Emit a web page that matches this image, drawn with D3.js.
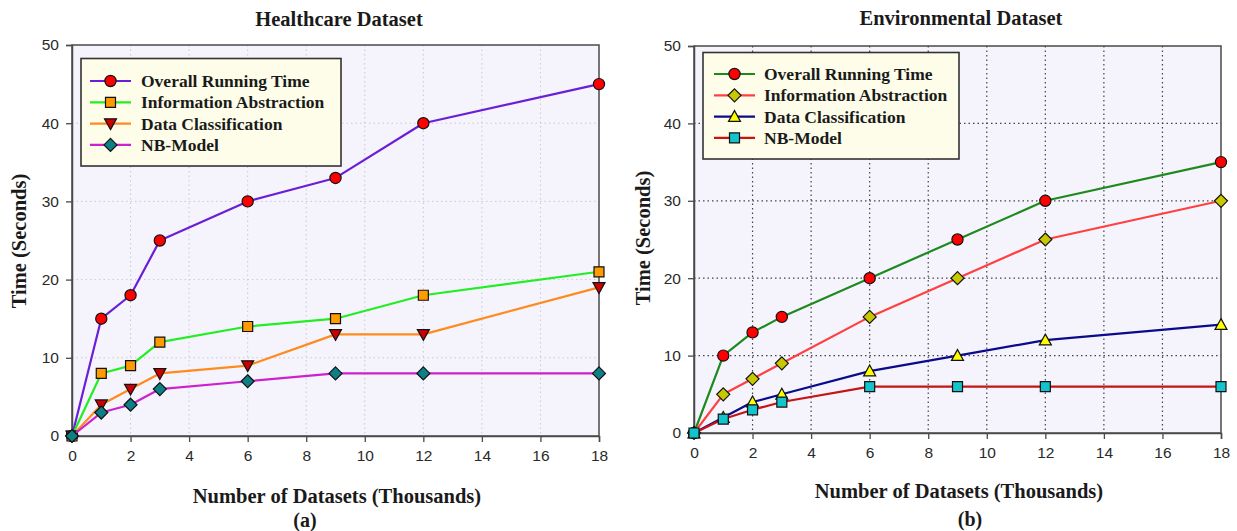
<!DOCTYPE html>
<html>
<head>
<meta charset="utf-8">
<script src="https://cdn.jsdelivr.net/npm/d3@7"></script>
<style>
  html, body { margin: 0; padding: 0; background: #ffffff; }
  svg { display: block; }
</style>
</head>
<body>
<svg id="chart" width="1237" height="531"></svg>
<script>
// ---------------- DATA ----------------
const xValues = [0, 1, 2, 3, 6, 9, 12, 18];
const xTicks = [0, 2, 4, 6, 8, 10, 12, 14, 16, 18];
const yTicks = [0, 10, 20, 30, 40, 50];
const seriesNames = ["Overall Running Time", "Information Abstraction", "Data Classification", "NB-Model"];

// (a) Healthcare Dataset
const healthOverall = [0, 15, 18, 25, 30, 33, 40, 45];
const healthInfo    = [0, 8, 9, 12, 14, 15, 18, 21];
const healthClass   = [0, 4, 6, 8, 9, 13, 13, 19];
const healthNB      = [0, 3, 4, 6, 7, 8, 8, 8];

// (b) Environmental Dataset
const envOverall = [0, 10, 13, 15, 20, 25, 30, 35];
const envInfo    = [0, 5, 7, 9, 15, 20, 25, 30];
const envClass   = [0, 2, 4, 5, 8, 10, 12, 14];
const envNB      = [0, 1.8, 3, 4, 6, 6, 6, 6];

const chartTitles = ["Healthcare Dataset", "Environmental Dataset"];
const panelLabels = ["(a)", "(b)"];
const xTitle = "Number of Datasets (Thousands)";
const yTitle = "Time (Seconds)";

// ---------------- DRAWING ----------------
const svg = d3.select("#chart");
const serif = "'Liberation Serif', 'Times New Roman', serif";
const sans = "'Liberation Sans', Arial, sans-serif";

function markerPath(shape, cx, cy) {
  switch (shape) {
    case "circle": {
      const r = 5.6;
      return `M${cx - r},${cy}a${r},${r} 0 1,0 ${2 * r},0a${r},${r} 0 1,0 ${-2 * r},0Z`;
    }
    case "square": {
      const h = 5;
      return `M${cx - h},${cy - h}h${2 * h}v${2 * h}h${-2 * h}Z`;
    }
    case "diamond": {
      const h = 6.5;
      return `M${cx},${cy - h}L${cx + h},${cy}L${cx},${cy + h}L${cx - h},${cy}Z`;
    }
    case "triUp": {
      const s = 6;
      return `M${cx},${cy - s}L${cx + s},${cy + s * 0.8}L${cx - s},${cy + s * 0.8}Z`;
    }
    case "triDown": {
      const s = 6;
      return `M${cx},${cy + s}L${cx + s},${cy - s * 0.8}L${cx - s},${cy - s * 0.8}Z`;
    }
  }
}

function drawPanel(cfg) {
  const g = svg.append("g");
  const x = d3.scaleLinear().domain([0, 18]).range([cfg.left, cfg.right]);
  const y = d3.scaleLinear().domain([0, 50]).range([cfg.bottom, cfg.top]);

  // plot background
  g.append("rect")
    .attr("x", cfg.left).attr("y", cfg.top)
    .attr("width", cfg.right - cfg.left).attr("height", cfg.bottom - cfg.top)
    .attr("fill", "#f5f4fd");

  // grid
  const grid = g.append("g");
  grid.selectAll("line.vx").data(xTicks.filter(d => d > 0 && d < 18)).enter().append("line")
    .attr("x1", d => x(d)).attr("x2", d => x(d))
    .attr("y1", cfg.top).attr("y2", cfg.bottom)
    .attr("stroke", cfg.gridColor).attr("stroke-width", cfg.gridWidth)
    .attr("stroke-dasharray", cfg.gridDash);
  grid.selectAll("line.hy").data(yTicks.filter(d => d > 0 && d < 50)).enter().append("line")
    .attr("y1", d => y(d)).attr("y2", d => y(d))
    .attr("x1", cfg.left).attr("x2", cfg.right)
    .attr("stroke", cfg.gridColor).attr("stroke-width", cfg.gridWidth)
    .attr("stroke-dasharray", cfg.gridDash);

  // frame
  g.append("rect")
    .attr("x", cfg.left).attr("y", cfg.top)
    .attr("width", cfg.right - cfg.left).attr("height", cfg.bottom - cfg.top)
    .attr("fill", "none").attr("stroke", "#4a4a4a").attr("stroke-width", 1.5);

  // axes
  const xAxis = d3.axisBottom(x).tickValues(xTicks).tickSize(6).tickPadding(8).tickFormat(d3.format("d"));
  const yAxis = d3.axisLeft(y).tickValues(yTicks).tickSize(6).tickPadding(7).tickFormat(d3.format("d"));
  const gx = g.append("g").attr("transform", `translate(0,${cfg.bottom})`).call(xAxis);
  const gy = g.append("g").attr("transform", `translate(${cfg.left},0)`).call(yAxis);
  [gx, gy].forEach(ax => {
    ax.select(".domain").attr("stroke", "#4a4a4a").attr("stroke-width", 1.5);
    ax.selectAll(".tick line").attr("stroke", "#4a4a4a").attr("stroke-width", 1.3);
    ax.selectAll(".tick text").attr("font-family", sans).attr("font-size", 15.5).attr("fill", "#2a2a2a");
  });

  // series
  const line = d3.line().x((d, i) => x(xValues[i])).y(d => y(d));
  cfg.series.forEach(s => {
    g.append("path").datum(s.values)
      .attr("d", line).attr("fill", "none")
      .attr("stroke", s.lineColor).attr("stroke-width", 2.2)
      .attr("stroke-linejoin", "round");
    g.selectAll(null).data(s.values).enter().append("path")
      .attr("d", (d, i) => markerPath(s.shape, x(xValues[i]), y(d)))
      .attr("fill", s.markerColor).attr("stroke", "#111").attr("stroke-width", 1.2);
  });

  // legend
  const lg = g.append("g");
  lg.append("rect")
    .attr("x", cfg.legend.x).attr("y", cfg.legend.y)
    .attr("width", cfg.legend.w).attr("height", cfg.legend.h)
    .attr("fill", "#fdfde9").attr("stroke", "#333").attr("stroke-width", 1.6);
  cfg.series.forEach((s, i) => {
    const cy = cfg.legend.y + cfg.legend.firstRow + i * cfg.legend.rowGap;
    lg.append("line")
      .attr("x1", cfg.legend.x + cfg.legend.lineStart).attr("x2", cfg.legend.x + cfg.legend.lineStart + 41)
      .attr("y1", cy).attr("y2", cy)
      .attr("stroke", s.lineColor).attr("stroke-width", 2.2);
    lg.append("path")
      .attr("d", markerPath(s.shape, cfg.legend.x + cfg.legend.lineStart + 20.5, cy))
      .attr("fill", s.markerColor).attr("stroke", "#111").attr("stroke-width", 1.2);
    lg.append("text")
      .attr("x", cfg.legend.x + cfg.legend.textStart).attr("y", cy)
      .attr("dy", "0.35em")
      .attr("font-family", serif).attr("font-weight", "bold").attr("font-size", 17.5)
      .attr("fill", "#1a1a1a")
      .text(seriesNames[i]);
  });

  // titles
  g.append("text").attr("x", cfg.titleX).attr("y", cfg.titleY).attr("dy", "0.35em")
    .attr("text-anchor", "middle").attr("font-family", serif).attr("font-weight", "bold")
    .attr("font-size", 20.5).attr("fill", "#1a1a1a").text(cfg.title);
  g.append("text").attr("x", cfg.xTitleX).attr("y", cfg.xTitleY).attr("dy", "0.35em")
    .attr("text-anchor", "middle").attr("font-family", serif).attr("font-weight", "bold")
    .attr("font-size", 20.5).attr("fill", "#1a1a1a").text(xTitle);
  g.append("text")
    .attr("transform", `translate(${cfg.yTitleX},${cfg.yTitleY}) rotate(-90)`)
    .attr("dy", "0.35em")
    .attr("text-anchor", "middle").attr("font-family", serif).attr("font-weight", "bold")
    .attr("font-size", 20.5).attr("fill", "#1a1a1a").text(yTitle);
  g.append("text").attr("x", cfg.panelX).attr("y", cfg.panelY).attr("dy", "0.35em")
    .attr("text-anchor", "middle").attr("font-family", serif).attr("font-weight", "bold")
    .attr("font-size", 20).attr("fill", "#1a1a1a").text(cfg.panel);
}

drawPanel({
  left: 72, right: 599, top: 45, bottom: 436,
  gridColor: "#c9c9d2", gridWidth: 1, gridDash: "1.5,3",
  title: chartTitles[0], titleX: 339, titleY: 19,
  xTitleX: 337, xTitleY: 496,
  yTitleX: 19, yTitleY: 241,
  panel: panelLabels[0], panelX: 305, panelY: 520,
  legend: { x: 81, y: 58.5, w: 260, h: 107.5, firstRow: 22.5, rowGap: 21.3, lineStart: 9, textStart: 60 },
  series: [
    { values: healthOverall, lineColor: "#6a1fd6", markerColor: "#ff0000", shape: "circle" },
    { values: healthInfo,    lineColor: "#22ee22", markerColor: "#ff9a00", shape: "square" },
    { values: healthClass,   lineColor: "#ff8a1e", markerColor: "#cc0000", shape: "triDown" },
    { values: healthNB,      lineColor: "#cc22cc", markerColor: "#0f7f86", shape: "diamond" }
  ]
});

drawPanel({
  left: 694, right: 1221, top: 46, bottom: 433,
  gridColor: "#444444", gridWidth: 1.2, gridDash: "1.5,3",
  title: chartTitles[1], titleX: 961, titleY: 18,
  xTitleX: 959, xTitleY: 491,
  yTitleX: 643, yTitleY: 238,
  panel: panelLabels[1], panelX: 970, panelY: 519,
  legend: { x: 703, y: 52.5, w: 256, h: 106.5, firstRow: 21.5, rowGap: 21.3, lineStart: 11, textStart: 61 },
  series: [
    { values: envOverall, lineColor: "#1e8a1e", markerColor: "#ff0000", shape: "circle" },
    { values: envInfo,    lineColor: "#ff4040", markerColor: "#c8c800", shape: "diamond" },
    { values: envClass,   lineColor: "#0a0a8a", markerColor: "#ffff00", shape: "triUp" },
    { values: envNB,      lineColor: "#c41414", markerColor: "#14c4cc", shape: "square" }
  ]
});
</script>
</body>
</html>
